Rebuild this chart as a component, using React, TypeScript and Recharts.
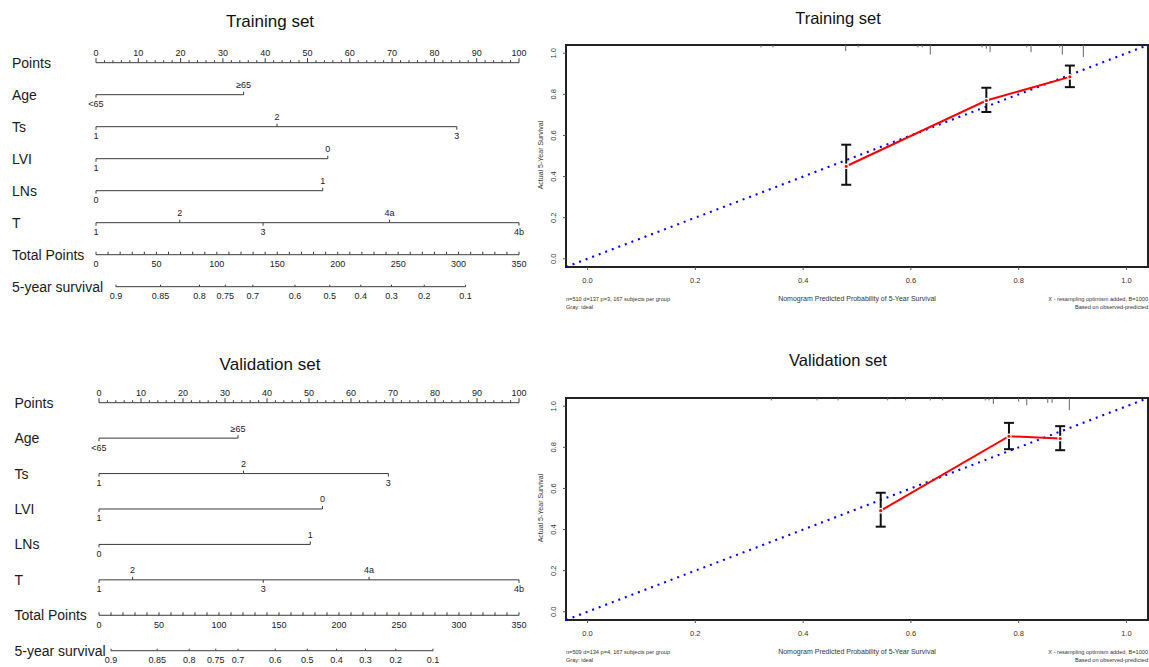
import React from "react";
import { ComposedChart, Line, Scatter, XAxis, YAxis, ReferenceArea, ErrorBar } from "recharts";

const FONT = "'Liberation Sans', Arial, sans-serif";
const INK = "#3a3a3a";
const TXT = "#1a1a1a";

// nomogram rows
const rowNames = ["Points", "Age", "Ts", "LVI", "LNs", "T", "Total Points", "5-year survival"];
const pointLabels = [0, 10, 20, 30, 40, 50, 60, 70, 80, 90, 100];
const totalLabels = [0, 50, 100, 150, 200, 250, 300, 350];

const ageLevels = ["<65", "≥65"];
const tsLevels = ["1", "2", "3"];
const lviLevels = ["1", "0"];
const lnsLevels = ["0", "1"];
const tLevels = ["1", "2", "3", "4a", "4b"];

const trainAgePts = [0, 34.9];
const trainTsPts = [0, 42.8, 85.3];
const trainLviPts = [0, 54.8];
const trainLnsPts = [0, 53.6];
const trainTPts = [0, 19.8, 39.5, 69.4, 100];

const validAgePts = [0, 33.1];
const validTsPts = [0, 34.4, 68.9];
const validLviPts = [0, 53.2];
const validLnsPts = [0, 50.3];
const validTPts = [0, 8.0, 39.1, 64.3, 100];

const survivalLabels = ["0.9", "0.85", "0.8", "0.75", "0.7", "0.6", "0.5", "0.4", "0.3", "0.2", "0.1"];
const trainSurvTotal = [16.5, 53.4, 85.6, 107, 129.8, 164.6, 193.4, 219.1, 244.5, 271.6, 305.8];
const validSurvTotal = [10.0, 48.5, 75.2, 97.3, 115.9, 146.9, 173.6, 198.0, 222.0, 247.3, 278.3];

// calibration
const calTicks = [0, 0.2, 0.4, 0.6, 0.8, 1.0];
const trainPred = [0.48, 0.74, 0.895];
const trainObs = [0.45, 0.77, 0.885];
const trainLo = [0.36, 0.714, 0.835];
const trainHi = [0.555, 0.832, 0.94];
const trainRugX = [0.322, 0.344, 0.479, 0.502, 0.613, 0.621, 0.636, 0.732, 0.74, 0.747, 0.815, 0.823, 0.876, 0.881, 0.92];
const trainRugF = [1, 1, 2.5, 1, 1, 1, 4, 1, 1.5, 3, 1, 3, 1, 4, 5];

const validPred = [0.544, 0.782, 0.877];
const validObs = [0.492, 0.854, 0.843];
const validLo = [0.414, 0.791, 0.786];
const validHi = [0.579, 0.919, 0.903];
const validRugX = [0.341, 0.426, 0.465, 0.557, 0.59, 0.636, 0.659, 0.738, 0.745, 0.753, 0.8, 0.815, 0.854, 0.862, 0.894];
const validRugF = [1, 1, 1, 1, 1, 1, 1, 1, 1, 2.5, 1.5, 3, 2, 2, 5];
const idealLine = [-0.04, 1.04];

const TOTAL_MAX = 350;

type Tick = { x: number; y: number; label: string; kind: string; major: boolean; up: boolean };

function pointsRow(): Tick[] {
  const out: Tick[] = [];
  for (let v = 0; v <= 100; v += 2) {
    const major = pointLabels.includes(v);
    out.push({ x: v, y: 0, label: major ? String(v) : "", kind: "points", major, up: true });
  }
  return out;
}

function levelRow(levels: string[], pts: number[], row: number): Tick[] {
  return pts.map((p, i) => ({ x: p, y: row, label: levels[i], kind: "level", major: true, up: i % 2 === 1 }));
}

function totalRow(): Tick[] {
  const out: Tick[] = [];
  for (let v = 0; v <= TOTAL_MAX; v += 10) {
    const major = totalLabels.includes(v);
    out.push({ x: (v * 100) / TOTAL_MAX, y: 6, label: major ? String(v) : "", kind: "total", major, up: false });
  }
  return out;
}

function survRow(totals: number[]): Tick[] {
  return totals.map((t, i) => ({ x: (t * 100) / TOTAL_MAX, y: 7, label: survivalLabels[i], kind: "surv", major: true, up: false }));
}

const renderTick = (props: any) => {
  const { cx, cy, payload, index } = props;
  if (cx == null || cy == null) return <g key={`e${index}`} />;
  let len = 3;
  let tickUp = true;
  if (payload.kind === "points") len = payload.major ? 4.5 : 2.5;
  if (payload.kind === "level") tickUp = payload.up;
  if (payload.kind === "surv") len = 2;
  const ty = tickUp ? cy - len : cy + len;
  const ly = payload.up ? cy - 6.5 : cy + 12.5;
  return (
    <g key={`t${index}`}>
      <line x1={cx} x2={cx} y1={cy} y2={ty} stroke={INK} strokeWidth={1} />
      {payload.label ? (
        <text x={cx} y={ly} textAnchor="middle" fontSize={9} fill={TXT} fontFamily={FONT}>
          {payload.label}
        </text>
      ) : null}
    </g>
  );
};

function Nomogram(p: {
  top: number; height: number; plotLeft: number; plotRight: number; firstY: number; gap: number;
  labelX: number; age: number[]; ts: number[]; lvi: number[]; lns: number[]; t: number[]; surv: number[];
}) {
  const W = 540;
  const mTop = p.firstY - p.top;
  const mBottom = p.height - mTop - p.gap * 7;
  const rows: Tick[][] = [
    pointsRow(),
    levelRow(ageLevels, p.age, 1),
    levelRow(tsLevels, p.ts, 2),
    levelRow(lviLevels, p.lvi, 3),
    levelRow(lnsLevels, p.lns, 4),
    levelRow(tLevels, p.t, 5),
    totalRow(),
    survRow(p.surv),
  ];
  const nameTick = (tp: any) => (
    <text x={p.labelX} y={tp.y + 5} fontSize={14} fill={TXT} fontFamily={FONT}>
      {rowNames[tp.payload.value]}
    </text>
  );
  return (
    <div style={{ position: "absolute", left: 0, top: p.top, width: W, height: p.height }}>
      <ComposedChart width={W} height={p.height} margin={{ top: mTop, right: W - p.plotRight, bottom: mBottom, left: 0 }}>
        <XAxis dataKey="x" type="number" domain={[0, 100]} hide />
        <YAxis dataKey="y" type="number" domain={[0, 7]} reversed ticks={[0, 1, 2, 3, 4, 5, 6, 7]}
          width={p.plotLeft} axisLine={false} tickLine={false} tick={nameTick} interval={0} />
        {rows.map((r, i) => (
          <Line key={i} data={r} dataKey="y" stroke={INK} strokeWidth={1} dot={renderTick}
            activeDot={false} isAnimationActive={false} legendType="none" />
        ))}
      </ComposedChart>
    </div>
  );
}

function Calibration(p: {
  top: number; pred: number[]; obs: number[]; lo: number[]; hi: number[]; rugX: number[]; rugF: number[];
  note: string;
}) {
  const pts = p.pred.map((x, i) => ({ x, y: p.obs[i], err: [p.obs[i] - p.lo[i], p.hi[i] - p.obs[i]] }));
  const rug = p.rugX.map((x, i) => ({ x, y: 1.04, f: p.rugF[i] }));
  const ideal = idealLine.map((v) => ({ x: v, y: v }));
  const yTick = (tp: any) => (
    <text x={tp.x - 7} y={tp.y} transform={`rotate(-90 ${tp.x - 7} ${tp.y})`} textAnchor="middle"
      dominantBaseline="central" fontSize={7.5} fill="#333" fontFamily={FONT}>
      {Number(tp.payload.value).toFixed(1)}
    </text>
  );
  const rugShape = (sp: any) => (
    <line x1={sp.cx} x2={sp.cx} y1={sp.cy} y2={sp.cy + sp.payload.f * 2.4} stroke="#666" strokeWidth={1} />
  );
  const small: React.CSSProperties = { position: "absolute", fontFamily: FONT, fontSize: 5.6, lineHeight: "7.5px", color: "#333" };
  return (
    <div style={{ position: "absolute", left: 530, top: p.top, width: 619, height: 320 }}>
      <ComposedChart width={619} height={320} margin={{ top: 45, right: 1, bottom: 33, left: 10 }}>
        <XAxis dataKey="x" type="number" domain={[-0.04, 1.04]} ticks={calTicks} tickFormatter={(v) => v.toFixed(1)}
          tick={{ fontSize: 7.5, fill: "#333", fontFamily: FONT }} tickSize={3} tickMargin={8}
          axisLine={false} tickLine={{ stroke: "#555" }} height={20} />
        <YAxis dataKey="y" type="number" domain={[-0.04, 1.04]} ticks={calTicks} width={26}
          tick={yTick} tickSize={3} axisLine={false} tickLine={{ stroke: "#555" }} />
        <ReferenceArea x1={-0.04} x2={1.04} y1={-0.04} y2={1.04} fill="none" stroke="#222" strokeWidth={2}
          ifOverflow="visible" />
        <Scatter data={rug} shape={rugShape} isAnimationActive={false} legendType="none" />
        <Line data={ideal} dataKey="y" stroke="#0000ff" strokeWidth={2.1} strokeDasharray="2 5" dot={false}
          activeDot={false} isAnimationActive={false} legendType="none" />
        <Line data={pts} dataKey="y" stroke="#ff0000" strokeWidth={2} isAnimationActive={false} activeDot={false}
          dot={{ r: 2.2, fill: "#ff0000", stroke: "#fff", strokeWidth: 1.2 }} legendType="none">
          <ErrorBar dataKey="err" width={5} stroke="#111" strokeWidth={2} direction="y" />
        </Line>
      </ComposedChart>
      <div style={{ position: "absolute", left: 10, top: 155, transform: "translate(-50%,-50%) rotate(-90deg)",
        fontFamily: FONT, fontSize: 7, color: "#333", whiteSpace: "nowrap" }}>
        Actual 5-Year Survival
      </div>
      <div style={{ position: "absolute", left: 327, top: 298, transform: "translate(-50%,-50%)",
        fontFamily: FONT, fontSize: 7, color: "#333", whiteSpace: "nowrap" }}>
        Nomogram Predicted Probability of 5-Year Survival
      </div>
      <div style={{ ...small, left: 36, top: 296, whiteSpace: "nowrap" }}>
        {p.note}<br />Gray: ideal
      </div>
      <div style={{ ...small, right: 1, top: 296, textAlign: "right", whiteSpace: "nowrap" }}>
        X - resampling optimism added, B=1000<br />Based on observed-predicted
      </div>
    </div>
  );
}

function Title({ x, y, size, text }: { x: number; y: number; size: number; text: string }) {
  return (
    <div style={{ position: "absolute", left: x, top: y, transform: "translate(-50%,-50%)", fontFamily: FONT,
      fontSize: size, color: "#111", whiteSpace: "nowrap" }}>
      {text}
    </div>
  );
}

export default function App() {
  return (
    <div style={{ position: "absolute", left: 0, top: 0, width: 1149, height: 667, background: "#fff", overflow: "hidden" }}>
      <Title x={270} y={22} size={17} text="Training set" />
      <Title x={838} y={18} size={16.5} text="Training set" />
      <Title x={270} y={365} size={17} text="Validation set" />
      <Title x={838} y={360} size={16.5} text="Validation set" />
      <Nomogram top={0} height={330} plotLeft={96} plotRight={519} firstY={62.7} gap={32} labelX={12}
        age={trainAgePts} ts={trainTsPts} lvi={trainLviPts} lns={trainLnsPts} t={trainTPts} surv={trainSurvTotal} />
      <Nomogram top={340} height={327} plotLeft={99} plotRight={519} firstY={402.7} gap={35.43} labelX={14.5}
        age={validAgePts} ts={validTsPts} lvi={validLviPts} lns={validLnsPts} t={validTPts} surv={validSurvTotal} />
      <Calibration top={0} pred={trainPred} obs={trainObs} lo={trainLo} hi={trainHi} rugX={trainRugX} rugF={trainRugF}
        note="n=510 d=137 p=3, 167 subjects per group" />
      <Calibration top={353} pred={validPred} obs={validObs} lo={validLo} hi={validHi} rugX={validRugX} rugF={validRugF}
        note="n=509 d=134 p=4, 167 subjects per group" />
    </div>
  );
}
